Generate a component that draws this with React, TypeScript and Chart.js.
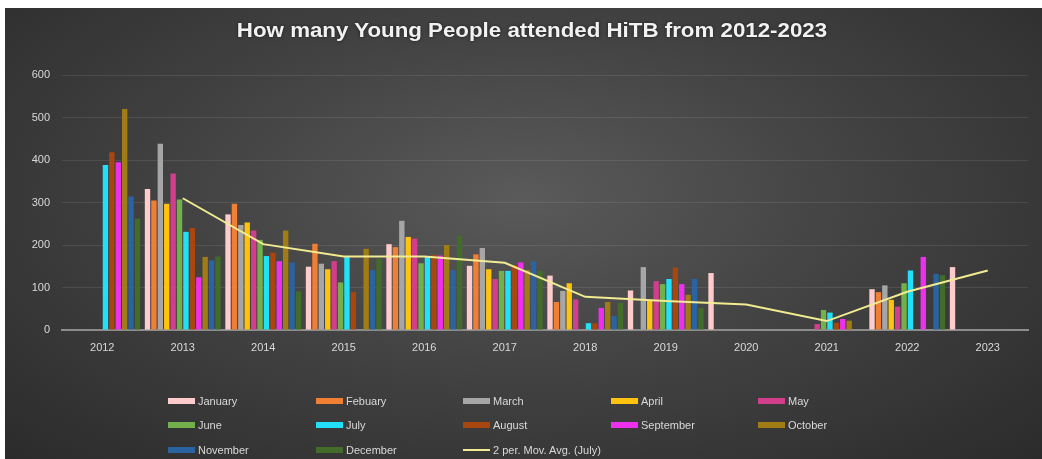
import React, { useEffect, useRef } from "react";
import { Chart, registerables } from "chart.js";

Chart.register(...registerables);

const title = "How many Young People attended HiTB from 2012-2023";
const years = ["2012", "2013", "2014", "2015", "2016", "2017", "2018", "2019", "2020", "2021", "2022", "2023"];
const yTicks = [0, 100, 200, 300, 400, 500, 600];

const january = [0, 332, 272, 149, 202, 151, 128, 93, 134, 0, 96, 148];
const february = [0, 305, 297, 203, 195, 178, 66, 0, 0, 0, 89, 0];
const march = [0, 438, 247, 156, 257, 193, 92, 148, 0, 0, 105, 0];
const april = [0, 297, 253, 143, 219, 143, 110, 71, 0, 0, 71, 0];
const may = [0, 368, 234, 162, 215, 120, 72, 115, 0, 14, 55, 0];
const june = [0, 307, 212, 112, 157, 139, 0, 108, 0, 47, 110, 0];
const july = [388, 231, 174, 173, 173, 139, 16, 120, 0, 41, 140, 0];
const august = [418, 240, 182, 89, 177, 153, 16, 147, 0, 17, 0, 0];
const september = [395, 124, 162, 0, 175, 159, 52, 108, 0, 26, 172, 0];
const october = [520, 172, 234, 191, 200, 141, 66, 83, 0, 22, 0, 0];
const november = [314, 164, 159, 141, 141, 162, 33, 120, 0, 0, 132, 0];
const december = [262, 173, 91, 167, 222, 139, 64, 52, 0, 0, 129, 0];
const julyMovingAvg = [null, 310, 202, 173, 173, 158, 78, 68, 60, 21, 90, 140];

const monthNames = ["January", "Febuary", "March", "April", "May", "June", "July", "August", "September", "October", "November", "December"];
const monthValues = [january, february, march, april, may, june, july, august, september, october, november, december];
const monthColors = ["#FFCCCB", "#F07E33", "#A6A6A6", "#FFC20E", "#D23D8C", "#71B04A", "#22E0FA", "#A8460F", "#EE30EE", "#A17B14", "#2A63A0", "#436C2B"];
const lineName = "2 per. Mov. Avg. (July)";
const lineColor = "#F2EB92";

const FONT = "'Liberation Sans', Arial, sans-serif";
const TEXT = "#D9D9D9";

export default function App() {
  const canvasRef = useRef<HTMLCanvasElement | null>(null);

  useEffect(() => {
    const canvas = canvasRef.current;
    if (!canvas) return;
    const datasets: any[] = monthNames.map((name, i) => ({
      type: "bar",
      label: name,
      data: monthValues[i],
      backgroundColor: monthColors[i],
      borderWidth: 0,
      categoryPercentage: 0.955,
      barPercentage: 0.84,
      order: 1,
    }));
    datasets.push({
      type: "line",
      label: lineName,
      data: julyMovingAvg,
      borderColor: lineColor,
      borderWidth: 2,
      pointRadius: 0,
      fill: false,
      tension: 0,
      order: 0,
    });
    const chart = new Chart(canvas, {
      type: "bar",
      data: { labels: years, datasets },
      options: {
        animation: false,
        responsive: true,
        maintainAspectRatio: false,
        layout: { padding: { top: 67, left: 0, right: 14, bottom: 13 } },
        plugins: {
          legend: { display: false },
          title: { display: false },
          tooltip: { enabled: false },
        },
        scales: {
          x: {
            grid: { display: false, drawTicks: false },
            border: { display: true, color: "#8C8C8C", width: 2 },
            ticks: { color: TEXT, font: { family: FONT, size: 11 }, padding: 11, maxRotation: 0 },
            afterFit: (scale: any) => {
              scale.height = 30;
            },
          },
          y: {
            min: 0,
            max: 600,
            afterBuildTicks: (scale: any) => {
              scale.ticks = yTicks.map((v) => ({ value: v }));
            },
            grid: {
              drawTicks: false,
              color: (ctx: any) => (ctx.tick && ctx.tick.value === 0 ? "rgba(0,0,0,0)" : "rgba(255,255,255,0.09)"),
              lineWidth: 1,
            },
            border: { display: false },
            ticks: { color: TEXT, font: { family: FONT, size: 11 }, padding: 12 },
            afterFit: (scale: any) => {
              scale.width = 57;
            },
          },
        },
      },
    });
    return () => chart.destroy();
  }, []);

  const legendItems = [...monthNames.map((n, i) => ({ name: n, color: monthColors[i], line: false })), { name: lineName, color: lineColor, line: true }];
  const colX = [163, 311, 458, 606, 753];
  const rowY = [393, 417, 441.5];

  return (
    <div
      style={{
        position: "fixed",
        left: 5,
        top: 8,
        width: 1037,
        height: 451,
        overflow: "hidden",
        background: "radial-gradient(ellipse farthest-corner at 50% 42%, #5a5a5a 0%, #434343 45%, #2b2b2b 100%)",
        fontFamily: FONT,
      }}
    >
      <div
        style={{
          position: "absolute",
          left: 527,
          top: 10,
          transform: "translateX(-50%) scaleX(1.115)",
          whiteSpace: "nowrap",
          color: "#F2F2F2",
          fontWeight: "bold",
          fontSize: 20,
          lineHeight: "24px",
          textShadow: "0 0 3px rgba(0,0,0,0.6)",
        }}
      >
        {title}
      </div>
      <div style={{ position: "absolute", left: 0, top: 0, width: 1037, height: 365 }}>
        <canvas ref={canvasRef} />
      </div>
      {legendItems.map((it, i) => {
        const c = i % 5;
        const r = Math.floor(i / 5);
        return (
          <div
            key={it.name}
            style={{
              position: "absolute",
              left: colX[c],
              top: rowY[r] - 8,
              height: 16,
              display: "flex",
              alignItems: "center",
              whiteSpace: "nowrap",
              color: TEXT,
              fontSize: 11,
            }}
          >
            <span
              style={{
                display: "inline-block",
                width: 27,
                height: it.line ? 2 : 6,
                background: it.color,
                marginRight: 3,
              }}
            />
            <span>{it.name}</span>
          </div>
        );
      })}
    </div>
  );
}
